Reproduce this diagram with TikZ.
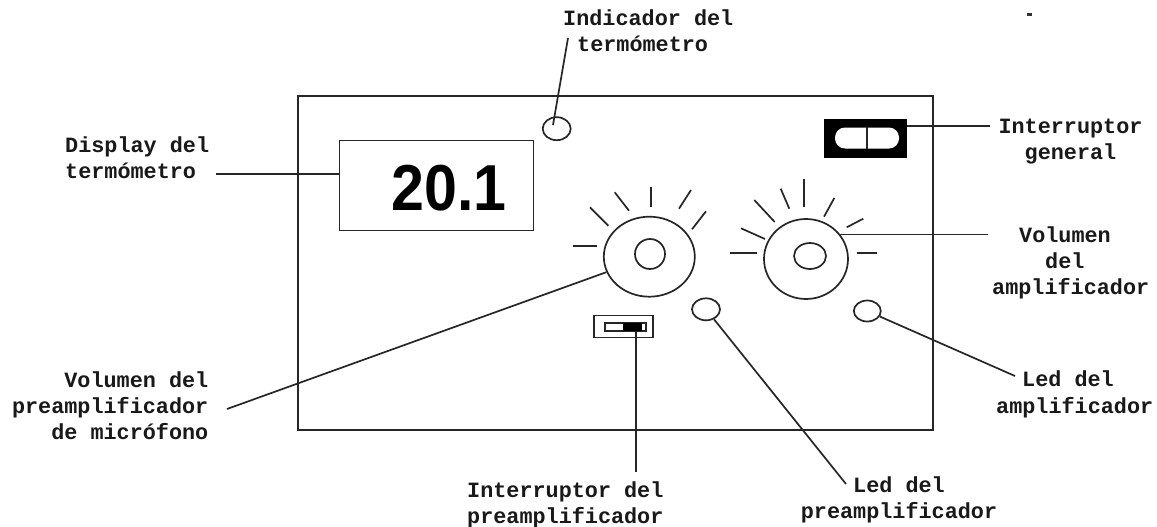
\documentclass[tikz,border=0pt]{standalone}
\usepackage{fontspec}
\usetikzlibrary{shapes.geometric}
\newfontfamily\monofam{Liberation Mono}
\newfontfamily\sansfam{Liberation Sans}
\tikzset{
    linea/.style={line width=1.7pt, black!85},
    etiqueta/.style={font=\monofam\bfseries\fontsize{21.8}{26}\selectfont, inner sep=0pt, text=black!90},
    led/.style={draw, ellipse, linea, inner sep=0pt, minimum width=28pt, minimum height=23pt},
}
\begin{document}
\begin{tikzpicture}[x=1pt, y=-1pt]
    \useasboundingbox (0, 0) rectangle (1157, 527);
    \fill[white] (0, 0) rectangle (1157, 527);

    % Panel frontal
    \draw[linea] (298, 96) rectangle (933, 430);

    % Display del termometro
    \node[draw, linea, minimum width=194pt, minimum height=90pt, inner sep=0pt] (display) at (436.5, 185.5) {};
    \node[anchor=east, inner sep=0pt, font=\sansfam\bfseries\fontsize{65}{65}\selectfont] (lectura) at (507, 188.5) {\scalebox{0.91}[1]{20.1}};

    % Interruptor general
    \node[fill=black, minimum width=83pt, minimum height=39pt, inner sep=0pt] (general) at (865.5, 138) {};
    \node[fill=white, rounded corners=10pt, minimum width=64pt, minimum height=21pt, inner sep=0pt] (ranura) at (867, 138) {};
    \draw[linea] (ranura.north) -- (ranura.south);

    % Leds
    \node[led] (ledtermo) at (556.7, 128.7) {};
    \node[led, minimum height=22pt] (ledpre) at (706, 309.3) {};
    \node[led, minimum width=27pt, minimum height=21pt] (ledamp) at (867.3, 311) {};

    % Mandos de volumen
    \node[draw, ellipse, linea, inner sep=0pt, minimum width=91pt, minimum height=80pt] (mandopre) at (649.3, 256.7) {};
    \node[draw, ellipse, linea, inner sep=0pt, minimum width=30pt, minimum height=30pt] (centropre) at (650, 254) {};
    \node[draw, ellipse, linea, inner sep=0pt, minimum width=84pt, minimum height=80pt] (mandoamp) at (806, 259) {};
    \node[draw, ellipse, linea, inner sep=0pt, minimum width=32pt, minimum height=26pt] (centroamp) at (810, 256) {};

    % Marcas de los mandos
    \foreach \xa/\ya/\xb/\yb in {590/207.3/608.3/225.7, 614.7/192.3/629/210.7, 651/186.7/651/206.7, 691/190/679/208.7, 706/211.3/692/229.3, 573.3/245.7/596.7/245.7, 741/228.3/765/239, 754.3/200/774.7/222, 780.7/188.7/789.3/208.7, 804/179/804/206.7, 834.3/198/824/216.7, 863.3/218.7/846.7/227.3, 730/253.3/757.3/253.3, 856.7/253.3/876.7/253.3}
        \draw[linea] (\xa, \ya) -- (\xb, \yb);

    % Interruptor del preamplificador
    \node[draw, linea, minimum width=59pt, minimum height=22pt, inner sep=0pt] (selector) at (623.7, 326.5) {};
    \node[draw, linea, minimum width=41pt, minimum height=8pt, inner sep=0pt] (guia) at (625.7, 327) {};
    \fill[black] (622.7, 323) rectangle (642, 331);

    % Etiquetas
    \node[etiqueta, anchor=north west, align=left] (tagindicador) at (563, 9.5) {Indicador del\\\hspace*{14pt}termómetro};
    \node[etiqueta, anchor=north west, align=left] (tagdisplay) at (65, 137) {Display del\\termómetro};
    \node[etiqueta, anchor=north, align=center] (taggeneral) at (1070.5, 119) {Interruptor\\general};
    \node[etiqueta, anchor=north west, align=left] (tagvolamp) at (992, 227) {\hspace*{27pt}Volumen\\\hspace*{53pt}del\\amplificador};
    \node[etiqueta, anchor=north west, align=left] (tagledamp) at (996, 371) {\hspace*{26pt}Led del\\amplificador};
    \node[etiqueta, anchor=north east, align=right] (tagvolpre) at (208.5, 372) {Volumen del\\preamplificador\\de micrófono};
    \node[etiqueta, anchor=north west, align=left] (tagselector) at (467, 481) {Interruptor del\\preamplificador};
    \node[etiqueta, anchor=north, align=center] (tagledpre) at (899, 476) {Led del\\preamplificador};

    % Extremos libres de las lineas
    \coordinate (findisplay) at (216, 173.7);
    \coordinate (finindicador) at (568, 38);
    \coordinate (puntaled) at (553, 125);
    \coordinate (fingeneral) at (990, 126);
    \coordinate (finvolamp) at (988, 234.5);
    \coordinate (finledamp) at (1015, 376);
    \coordinate (finvolpre) at (227, 409);
    \coordinate (finselector) at (636, 471.7);
    \coordinate (finledpre) at (846, 484);

    % Lineas de las etiquetas
    \draw[linea] (findisplay) -- (findisplay -| display.west);
    \draw[linea] (finindicador) -- (puntaled);
    \draw[linea] (fingeneral) -- (fingeneral -| general.east);
    \draw[linea] (finvolamp) -- (finvolamp -| mandoamp.36);
    \draw[linea] (finledamp) -- (ledamp);
    \draw[linea] (finvolpre) -- (mandopre);
    \draw[linea] (finselector) -- (finselector |- guia.south);
    \draw[linea] (finledpre) -- (ledpre);

    % Punto suelto arriba a la derecha
    \fill[black!80] (1027, 13.5) rectangle (1032, 16.5);
\end{tikzpicture}
\end{document}
